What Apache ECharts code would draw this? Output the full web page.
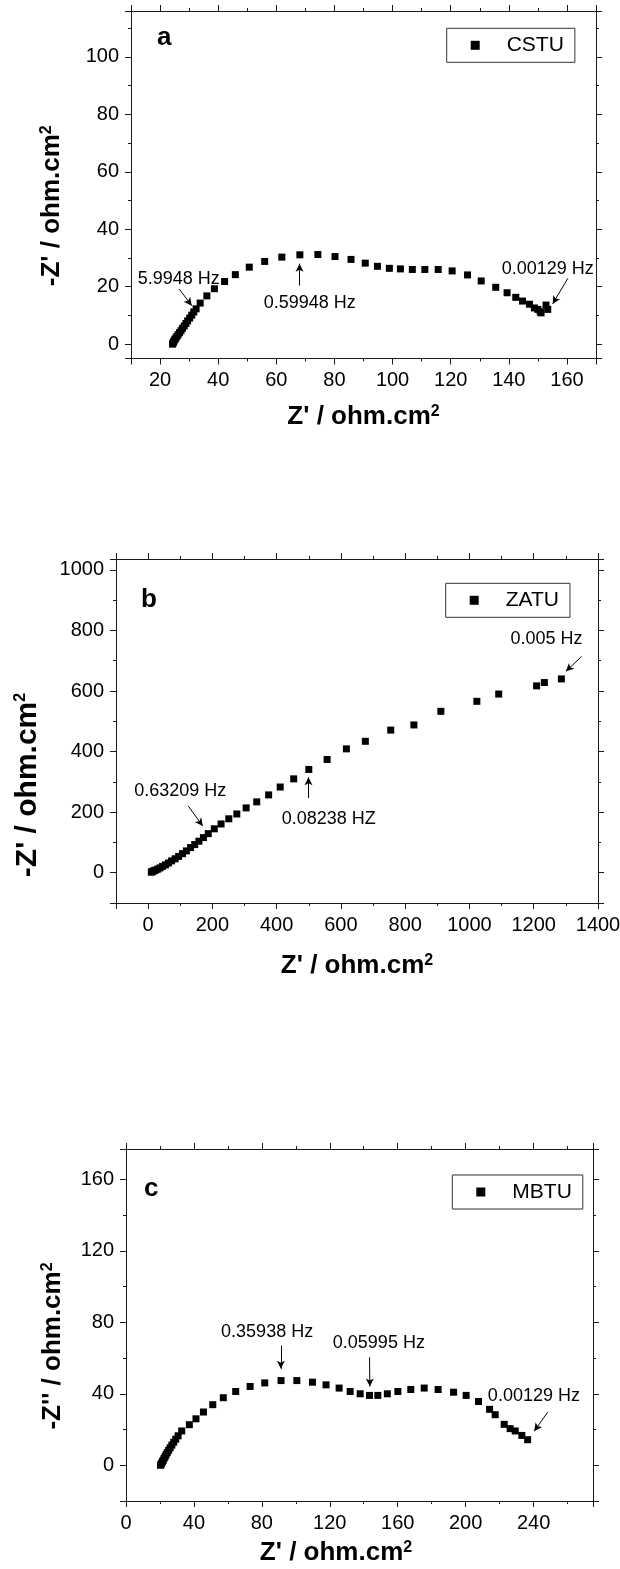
<!DOCTYPE html>
<html><head><meta charset="utf-8">
<script src="https://cdn.jsdelivr.net/npm/echarts@6/dist/echarts.min.js"></script>
<style>html,body{margin:0;padding:0;background:#fff}#c{width:620px;height:1569px}</style>
</head><body><div id="c"></div>
<script>
// ---- Panel a: CSTU ----
const cstuZre = [24.3,24.4,24.6,24.8,25.1,25.4,25.8,26.2,26.7,27.2,27.7,28.3,28.9,29.5,30.2,30.9,31.6,32.4,
  33.8,36.1,38.7,42.2,45.9,50.7,56.0,61.9,68.1,74.3,80.2,85.7,90.6,94.8,98.9,102.7,106.8,111.1,115.7,120.5,
  125.8,130.5,135.5,139.4,142.4,144.7,147.1,148.8,150.0,150.8,151.1,152.8,153.4];
const cstuZim = [0,0.3,0.7,1.1,1.6,2.1,2.7,3.3,4.0,4.7,5.5,6.3,7.2,8.1,9.1,10.1,11.2,12.3,
  14.3,16.8,19.3,21.8,24.2,26.8,28.8,30.3,31.1,31.2,30.5,29.5,28.2,27.1,26.4,26.2,26.0,26.0,26.0,25.5,
  24.1,22.0,19.8,17.9,16.3,15.0,13.9,12.6,12.1,11.3,10.9,13.6,12.1];
// ---- Panel b: ZATU ----
const zatuZre = [10,12,15,19,24,30,37,45,54,63,73,84,95,107,119,132,145,158,172,
  187,206,227,251,276,305,338,375,411,453,500,557,617,676,755,827,911,1023,1091,1209,1233,1286];
const zatuZim = [2,3,5,7,9,12,16,21,26,32,39,46,54,63,72,83,93,104,116,
  129,145,161,178,194,214,234,257,283,310,341,374,409,434,471,488,533,566,590,617,628,640];
// ---- Panel c: MBTU ----
const mbtuZre = [20.3,20.6,21.0,21.4,21.9,22.4,23.0,23.6,24.3,25.1,26.0,27.0,28.1,29.3,30.7,32.8,
  37.3,41.2,45.6,51.1,57.3,64.6,73.1,81.7,91.3,100.6,109.8,117.8,125.5,132.0,137.9,143.4,148.3,153.9,
  160.1,167.7,175.6,183.8,192.9,200.3,207.6,214.1,217.4,222.7,226.2,229.2,233.1,236.5];
const mbtuZim = [0,0.5,1.2,2.0,2.8,3.8,4.8,5.9,7.1,8.4,9.8,11.3,12.9,14.6,16.5,19.2,
  22.7,26.0,29.8,33.9,37.8,41.3,44.1,46.1,47.4,47.4,46.5,45.0,43.2,41.3,40.0,39.1,39.1,40.0,
  41.3,42.4,43.2,42.4,40.9,39.1,35.7,31.3,28.3,22.9,20.5,19.2,16.7,14.3];

// Axis ranges [min, max, major step]
const xRangeA = [10, 170, 20], yRangeA = [-5, 116, 20];
const xRangeB = [-100, 1400, 200], yRangeB = [-100, 1036, 200];
const xRangeC = [0, 275, 40], yRangeC = [-20, 177, 40];

// Frequency annotations: label position, arrow from -> to (data units)
const annA = [
  {text:'5.9948 Hz', at:[26.4,22.8], from:[26.6,19.2], to:[30.9,13.4]},
  {text:'0.59948 Hz', at:[71.5,14.3], from:[68.0,20.4], to:[68.0,28.0]},
  {text:'0.00129 Hz', at:[153.4,26.2], from:[160.3,22.9], to:[155.1,14.0]}
];
const annB = [
  {text:'0.63209 Hz', at:[100,271], from:[125,220], to:[170,154]},
  {text:'0.08238 HZ', at:[562,176], from:[499,247], to:[499,315]},
  {text:'0.005 Hz', at:[1240,771], from:[1349,714], to:[1300,665]}
];
const annC = [
  {text:'0.35938 Hz', at:[83.1,74.4], from:[91.2,67.0], to:[91.2,54.0]},
  {text:'0.05995 Hz', at:[148.9,68.5], from:[143.4,60.4], to:[143.6,44.1]},
  {text:'0.00129 Hz', at:[240.2,38.5], from:[248.3,29.7], to:[240.4,19.1]}
];

const FONT = "'Liberation Sans', Arial, sans-serif";
const INK = '#1a1a1a';
const TXT = '#000';

const panels = [
  {name:'CSTU', letter:'a', xs:cstuZre, ys:cstuZim, ann:annA, xr:xRangeA, yr:yRangeA,
   grid:{left:131, top:11, width:465, height:347.5},
   xShow:[false,false], yShow:[false,false], yName:"-Z' / ohm.cm{s|2}",
   xGap:45, yGap:66, yPad:[0,42,0,0], xPad:[0,0,0,0], yFont:26,
   legend:{left:446.7, top:28.3}, title:{left:157, top:25}},
  {name:'ZATU', letter:'b', xs:zatuZre, ys:zatuZim, ann:annB, xr:xRangeB, yr:yRangeB,
   grid:{left:116, top:559, width:482, height:344},
   xShow:[false,true], yShow:[false,false], yName:"-Z' / ohm.cm{s|2}",
   xGap:50, yGap:73, yPad:[0,108,0,0], xPad:[0,0,0,0], yFont:30,
   legend:{left:445.7, top:583.3}, title:{left:141, top:587}},
  {name:'MBTU', letter:'c', xs:mbtuZre, ys:mbtuZim, ann:annC, xr:xRangeC, yr:yRangeC,
   grid:{left:126, top:1149, width:467, height:352},
   xShow:[true,false], yShow:[false,false], yName:"-Z'' / ohm.cm{s|2}",
   xGap:39, yGap:60, yPad:[0,42,0,0], xPad:[0,47,0,0], yFont:26,
   legend:{left:452.3, top:1175}, title:{left:144, top:1176}}
];

function axis(kind, gi, r, pos, showLabels, show) {
  return {
    type:'value', gridIndex:gi, position:pos, min:r[0], max:r[1],
    minInterval:r[2], maxInterval:r[2], splitNumber:6,
    axisLine:{show:true, onZero:false, lineStyle:{color:INK, width:1}},
    axisTick:{show:true, inside:false, length:6, lineStyle:{color:INK, width:1}},
    minorTick:{show:true, splitNumber:2, length:3, lineStyle:{color:INK, width:1}},
    splitLine:{show:false},
    axisLabel:{show:showLabels, color:TXT, fontSize:20, fontFamily:FONT, margin:12,
      formatter: v => String(v),
      showMinLabel: show ? show[0] : false, showMaxLabel: show ? show[1] : false},
  };
}

const option = {
  animation:false,
  backgroundColor:'#fff',
  title:[], legend:[], grid:[], xAxis:[], yAxis:[], series:[]
};

panels.forEach((p, i) => {
  option.grid.push(Object.assign({containLabel:false, outerBoundsMode:'none'}, p.grid));
  const xb = axis('x', i, p.xr, 'bottom', true, p.xShow);
  xb.name = "Z' / ohm.cm{s|2}";
  xb.nameLocation = 'middle';
  xb.nameGap = p.xGap;
  xb.nameTextStyle = {fontSize:26, fontWeight:'bold', color:TXT, fontFamily:FONT, padding:p.xPad,
    rich:{s:{fontSize:16, fontWeight:'bold', color:TXT, fontFamily:FONT, verticalAlign:'top'}}};
  option.xAxis.push(xb);
  const yl = axis('y', i, p.yr, 'left', true, p.yShow);
  yl.name = p.yName;
  yl.nameLocation = 'middle';
  yl.nameGap = p.yGap;
  yl.nameRotate = 90;
  yl.nameTextStyle = {fontSize:p.yFont, fontWeight:'bold', color:TXT, fontFamily:FONT, padding:p.yPad,
    rich:{s:{fontSize:16, fontWeight:'bold', color:TXT, fontFamily:FONT, verticalAlign:'top'}}};
  option.yAxis.push(yl);
});
panels.forEach((p, i) => {
  option.xAxis.push(axis('x', i, p.xr, 'top', false, null));
  option.yAxis.push(axis('y', i, p.yr, 'right', false, null));
});

panels.forEach((p, i) => {
  option.title.push({text:p.letter, left:p.title.left, top:p.title.top, padding:0,
    textStyle:{fontSize:26, fontWeight:'bold', color:TXT, fontFamily:FONT}});
  option.legend.push({
    data:[p.name], left:p.legend.left, top:p.legend.top, icon:'rect', itemWidth:9, itemHeight:9,
    itemGap:0, padding:[6.5,11,6.5,24], borderColor:'#333', borderWidth:1, borderRadius:0,
    selectedMode:false, itemStyle:{opacity:1},
    textStyle:{fontSize:21, color:TXT, fontFamily:FONT, padding:[0,0,0,22]}
  });
  option.series.push({
    name:p.name, type:'scatter', xAxisIndex:i, yAxisIndex:i, symbol:'rect', symbolSize:7,
    itemStyle:{color:'#000', opacity:1}, data:p.xs.map((x, k) => [x, p.ys[k]]), z:3
  });
  option.series.push({
    name:p.name + '-notes', type:'scatter', xAxisIndex:i, yAxisIndex:i, symbolSize:0, silent:true,
    itemStyle:{opacity:1},
    data:p.ann.map(a => ({value:a.at, name:a.text})),
    label:{show:true, position:'inside', formatter:'{b}', color:TXT, opacity:1, fontSize:18, fontFamily:FONT},
    markLine:{silent:true, symbol:['none','arrow'], symbolSize:[6,8], animation:false,
      lineStyle:{color:'#000', width:1, type:'solid', opacity:1}, label:{show:false},
      emphasis:{disabled:true},
      data:p.ann.map(a => [{coord:a.from}, {coord:a.to}])}
  });
});

const chart = echarts.init(document.getElementById('c'), null, {renderer:'canvas'});
chart.setOption(option);
</script></body></html>
